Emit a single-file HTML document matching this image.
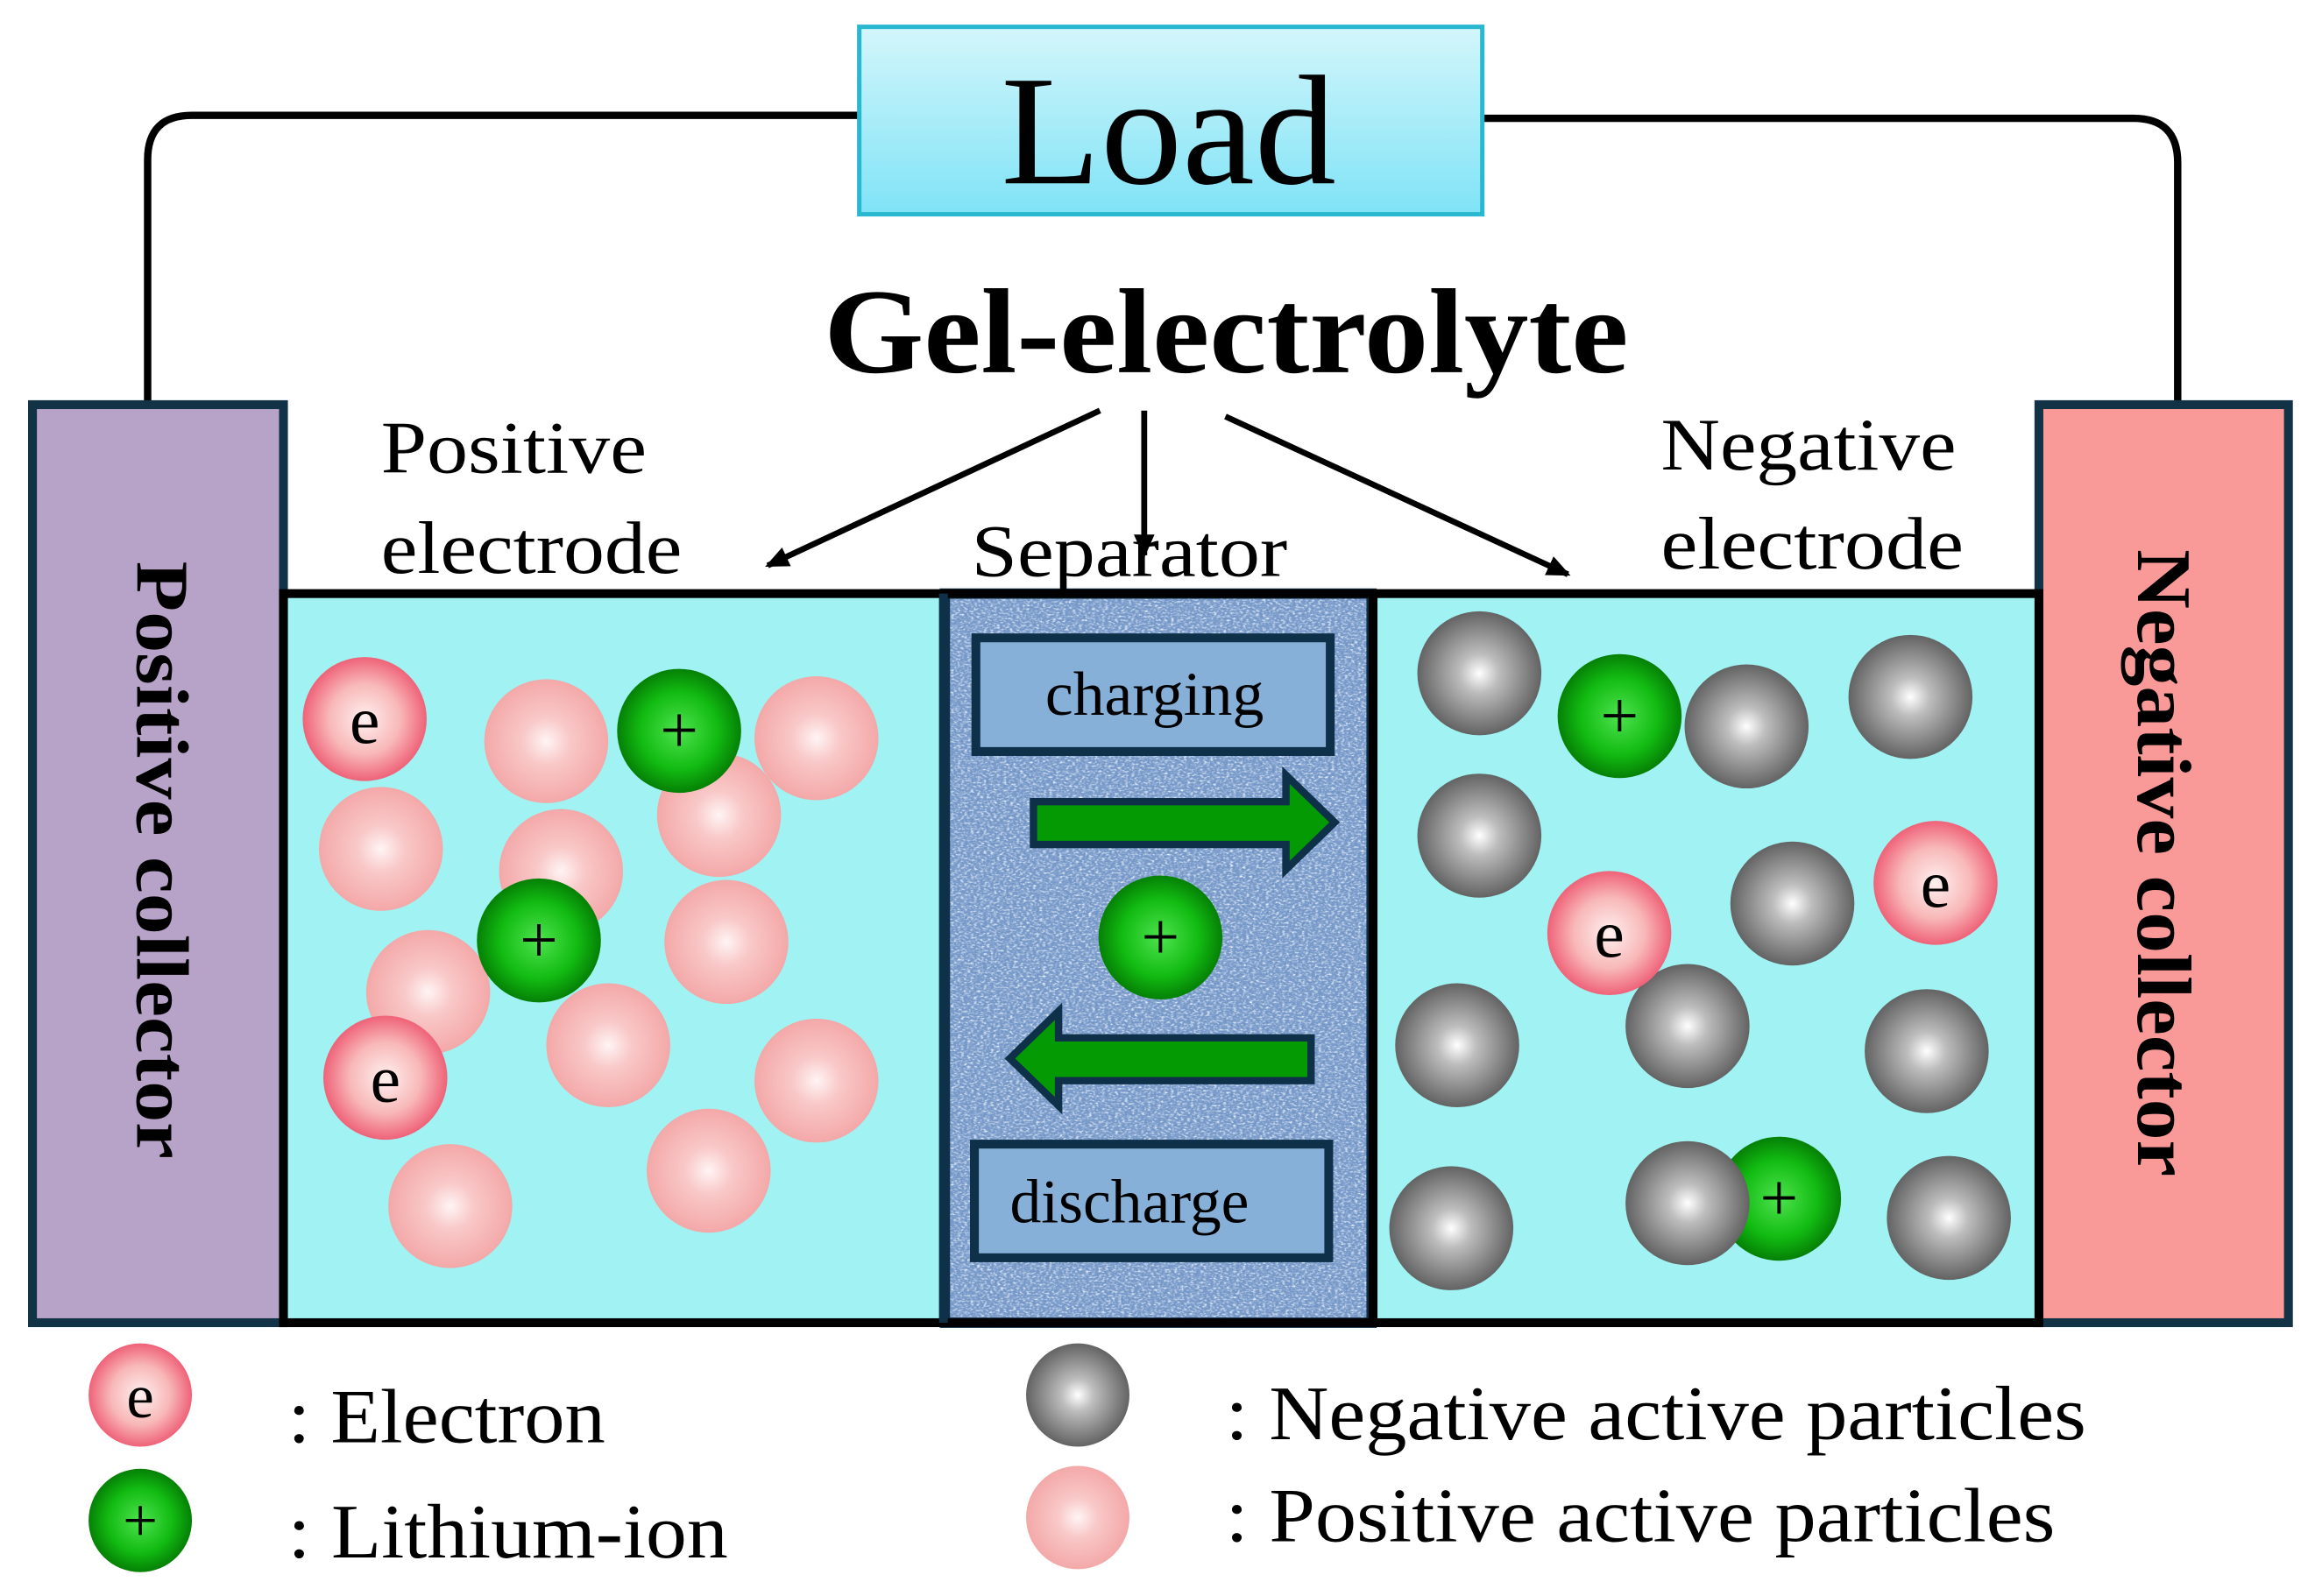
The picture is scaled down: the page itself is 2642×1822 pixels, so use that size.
<!DOCTYPE html>
<html><head><meta charset="utf-8"><style>
html,body{margin:0;padding:0;background:#fff;}
svg{display:block;}
text{font-family:"Liberation Serif",serif;}
</style></head><body>
<svg width="2642" height="1822" viewBox="0 0 1568 1081" xmlns="http://www.w3.org/2000/svg">
<defs>
<radialGradient id="pk" cx="50%" cy="50%" r="55%"><stop offset="0" stop-color="#fff4f4"/><stop offset="0.35" stop-color="#f9c8c8"/><stop offset="1" stop-color="#f3a3a3"/></radialGradient>
<radialGradient id="el" cx="50%" cy="50%" r="52%"><stop offset="0" stop-color="#fff0f0"/><stop offset="0.55" stop-color="#f8b8b8"/><stop offset="1" stop-color="#ee5a72"/></radialGradient>
<radialGradient id="gr" cx="50%" cy="50%" r="52%"><stop offset="0" stop-color="#ffffff"/><stop offset="0.3" stop-color="#bdbdbd"/><stop offset="1" stop-color="#5e5e5e"/></radialGradient>
<radialGradient id="gn" cx="50%" cy="50%" r="52%"><stop offset="0" stop-color="#4ee34e"/><stop offset="0.6" stop-color="#12bb12"/><stop offset="1" stop-color="#047a04"/></radialGradient>
<linearGradient id="ld" x1="0" y1="0" x2="0" y2="1"><stop offset="0" stop-color="#d3f6fb"/><stop offset="1" stop-color="#7fe3f6"/></linearGradient>
<filter id="tx" x="0" y="0" width="100%" height="100%"><feTurbulence type="fractalNoise" baseFrequency="0.45 0.8" numOctaves="2" seed="3"/><feColorMatrix type="matrix" values="0 0 0 0 0.85  0 0 0 0 0.92  0 0 0 0 1  2.5 0 0 0 -1.1"/><feComposite in2="SourceGraphic" operator="in"/></filter>
<filter id="tx2" x="0" y="0" width="100%" height="100%"><feTurbulence type="fractalNoise" baseFrequency="0.5 0.9" numOctaves="2" seed="9"/><feColorMatrix type="matrix" values="0 0 0 0 0.15  0 0 0 0 0.28  0 0 0 0 0.5  2.5 0 0 0 -1.15"/><feComposite in2="SourceGraphic" operator="in"/></filter>
<marker id="ah" markerWidth="16" markerHeight="14" refX="14" refY="7" orient="auto" markerUnits="userSpaceOnUse"><path d="M0,0 L16,7 L0,14 Z" fill="#000"/></marker>
</defs>
<path d="M582,78 H130 Q100,78 100,108 V272" fill="none" stroke="#000" stroke-width="5"/>
<path d="M1004,80 H1445 Q1475,80 1475,110 V272" fill="none" stroke="#000" stroke-width="5"/>
<rect x="582" y="18" width="422" height="127" fill="url(#ld)" stroke="#2ab8d0" stroke-width="3"/>
<text x="678" y="124" font-size="106" textLength="227" lengthAdjust="spacingAndGlyphs">Load</text>
<text x="558" y="252" font-size="82" font-weight="bold" textLength="545" lengthAdjust="spacingAndGlyphs">Gel-electrolyte</text>
<rect x="22" y="274" width="170" height="622" fill="#b7a3c8" stroke="#123245" stroke-width="6"/>
<rect x="1381" y="274" width="169" height="622" fill="#f99a98" stroke="#123245" stroke-width="6"/>
<text transform="translate(93,380) rotate(90)" font-size="50" font-weight="bold" textLength="405" lengthAdjust="spacingAndGlyphs">Positive collector</text>
<text transform="translate(1448,372) rotate(90)" font-size="52" font-weight="bold" textLength="425" lengthAdjust="spacingAndGlyphs">Negative collector</text>
<rect x="192" y="402" width="447" height="494" fill="#a0f2f3"/>
<rect x="929" y="402" width="452" height="494" fill="#a0f2f3"/>
<rect x="639" y="402" width="290" height="494" fill="#7a9bcc"/>
<rect x="639" y="402" width="290" height="494" fill="#fff" filter="url(#tx)"/>
<rect x="639" y="402" width="290" height="494" fill="#fff" filter="url(#tx2)"/>
<rect x="640" y="402" width="289" height="494" fill="none" stroke="#0e3048" stroke-width="7"/>
<rect x="192" y="402" width="1189" height="494" fill="none" stroke="#000" stroke-width="6"/>
<line x1="639" y1="402" x2="639" y2="896" stroke="#0e3048" stroke-width="6"/>
<line x1="930" y1="402" x2="930" y2="896" stroke="#000" stroke-width="6"/>
<g font-size="50" lengthAdjust="spacingAndGlyphs">
<text x="258" y="320" textLength="180" lengthAdjust="spacingAndGlyphs">Positive</text>
<text x="258" y="388" textLength="204" lengthAdjust="spacingAndGlyphs">electrode</text>
<text x="658" y="390" textLength="214" lengthAdjust="spacingAndGlyphs">Separator</text>
<text x="1125" y="318" textLength="200" lengthAdjust="spacingAndGlyphs">Negative</text>
<text x="1125" y="385" textLength="205" lengthAdjust="spacingAndGlyphs">electrode</text></g>
<g stroke="#000" stroke-width="4" marker-end="url(#ah)">
<line x1="745" y1="278" x2="520" y2="383"/><line x1="775" y1="278" x2="775" y2="376"/><line x1="830" y1="282" x2="1062" y2="389"/></g>
<rect x="661" y="432" width="240" height="77" fill="#87b0d8" stroke="#0e3048" stroke-width="6"/>
<text x="708" y="484" font-size="42" textLength="148" lengthAdjust="spacingAndGlyphs">charging</text>
<rect x="660" y="775" width="240" height="77" fill="#87b0d8" stroke="#0e3048" stroke-width="6"/>
<text x="684" y="828" font-size="42" textLength="162" lengthAdjust="spacingAndGlyphs">discharge</text>
<path d="M700,543 H871 V525 L904,557 L871,589 V572 H700 Z" fill="#049a04" stroke="#0e3048" stroke-width="5"/>
<path d="M888,703 H717 V685 L684,717 L717,749 V732 H888 Z" fill="#049a04" stroke="#0e3048" stroke-width="5"/>
<g fill="url(#pk)">
<circle cx="370" cy="502" r="42"/><circle cx="553" cy="500" r="42"/><circle cx="487" cy="552" r="42"/><circle cx="258" cy="575" r="42"/><circle cx="380" cy="590" r="42"/><circle cx="492" cy="638" r="42"/><circle cx="290" cy="672" r="42"/><circle cx="412" cy="708" r="42"/><circle cx="553" cy="732" r="42"/><circle cx="480" cy="793" r="42"/><circle cx="305" cy="817" r="42"/>
<circle cx="730" cy="1028" r="35"/></g>
<g fill="url(#gr)">
<circle cx="1002" cy="456" r="42"/><circle cx="1183" cy="492" r="42"/><circle cx="1294" cy="472" r="42"/><circle cx="1002" cy="566" r="42"/><circle cx="1214" cy="612" r="42"/><circle cx="987" cy="708" r="42"/><circle cx="1143" cy="695" r="42"/><circle cx="1305" cy="712" r="42"/><circle cx="983" cy="832" r="42"/><circle cx="1320" cy="825" r="42"/>
<circle cx="730" cy="945" r="35"/></g>
<g fill="url(#gn)">
<circle cx="460" cy="495" r="42"/><circle cx="365" cy="637" r="42"/><circle cx="786" cy="635" r="42"/><circle cx="1097" cy="485" r="42"/><circle cx="1205" cy="812" r="42"/><circle cx="95" cy="1030" r="35"/></g>
<circle cx="1143" cy="815" r="42" fill="url(#gr)"/>
<g fill="url(#el)">
<circle cx="247" cy="487" r="42"/><circle cx="261" cy="730" r="42"/><circle cx="1090" cy="632" r="42"/><circle cx="1311" cy="598" r="42"/><circle cx="95" cy="945" r="35"/></g>
<g font-size="46" text-anchor="middle">
<text x="247" y="503">e</text><text x="261" y="746">e</text><text x="1090" y="648">e</text><text x="1311" y="614">e</text><text x="95" y="960" font-size="42">e</text>
<text x="460" y="510">+</text><text x="365" y="652">+</text><text x="786" y="650">+</text><text x="1097" y="500">+</text><text x="1205" y="827">+</text><text x="95" y="1044" font-size="42">+</text></g>
<g font-size="52">
<text x="195" y="977" textLength="215" lengthAdjust="spacingAndGlyphs">: Electron</text>
<text x="195" y="1055" textLength="298" lengthAdjust="spacingAndGlyphs">: Lithium-ion</text>
<text x="830" y="975" textLength="583" lengthAdjust="spacingAndGlyphs">: Negative active particles</text>
<text x="830" y="1044" textLength="562" lengthAdjust="spacingAndGlyphs">: Positive active particles</text></g>
</svg>
</body></html>
